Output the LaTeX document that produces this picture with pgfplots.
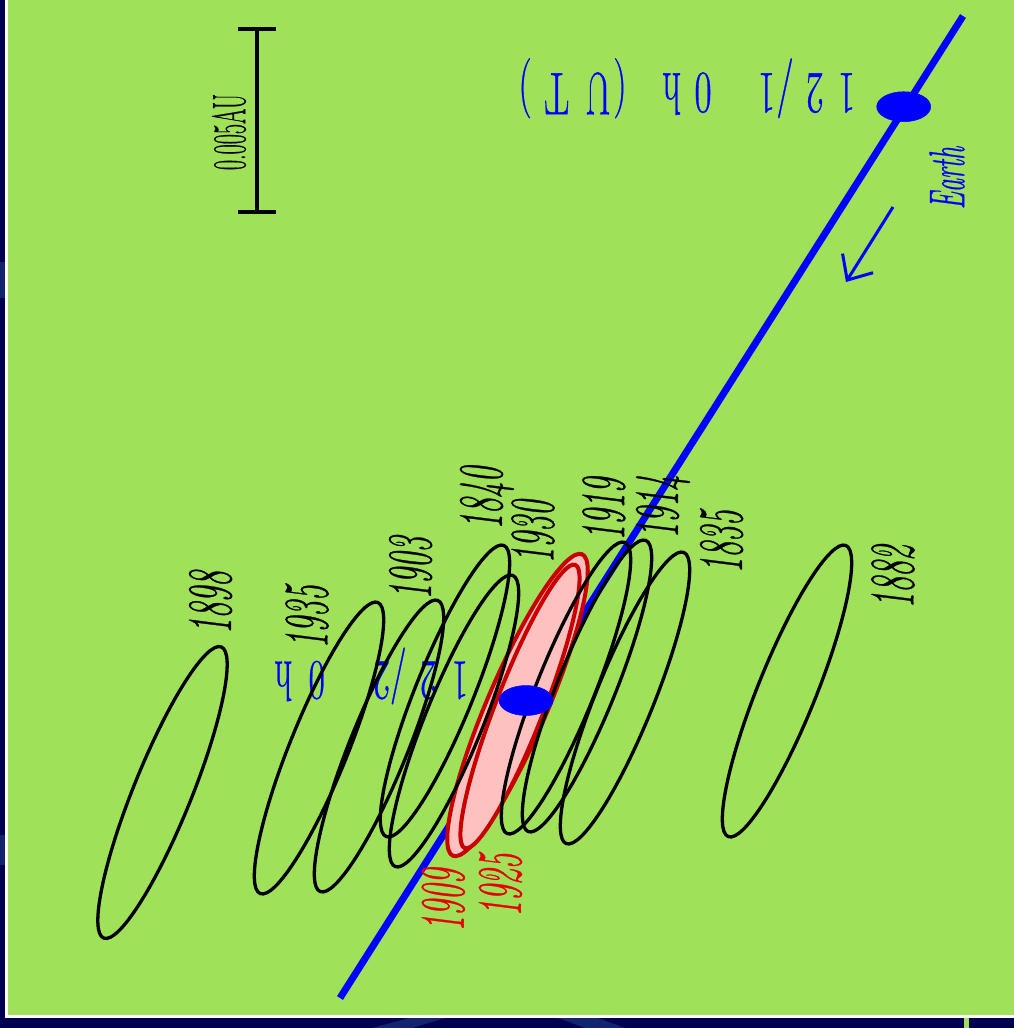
\documentclass[border=0pt]{standalone}
\usepackage{fontspec}
\setmainfont{Latin Modern Roman}[FakeBold=0.8]
\usepackage{pgfplots}
\usepackage{pgfplotstable}
\pgfplotsset{compat=1.18}
\usetikzlibrary{arrows.meta}
\definecolor{bg}{RGB}{0,0,80}
\definecolor{bgstripe}{RGB}{30,60,130}
\definecolor{grn}{RGB}{160,225,90}
\definecolor{dred}{RGB}{200,0,0}
\definecolor{pinkf}{RGB}{255,192,192}
\definecolor{lab}{RGB}{230,0,0}

\pgfdeclareplotmark{ells}{%
  \pgfmathsetmacro\angb{\ang+90}%
  \pgfpathellipse{\pgfpointorigin}{\pgfpointpolar{\ang}{\rx pt}}{\pgfpointpolar{\angb}{\ry pt}}%
  \pgfusepathqstroke}
\pgfdeclareplotmark{ellf}{%
  \pgfmathsetmacro\angb{\ang+90}%
  \pgfpathellipse{\pgfpointorigin}{\pgfpointpolar{\ang}{\rx pt}}{\pgfpointpolar{\angb}{\ry pt}}%
  \pgfusepathqfillstroke}

% meteor stream node ellipses: centre (px), semi-axes (px), angle (deg)
\pgfplotstableread{
x y rx ry ang
162.5 792.5 157 29 68
319 748 157 29 68
379 746 157 29 68
445 691 157 29 68
454 721 157 29 68
566 688 157 29 68
587 686 157 29 68
625 698 157 29 68
787 691 157 29 68
}\blackell
\pgfplotstableread{
x y rx ry ang
517.5 705 164 30 66.8
520 706.5 152 24 68.7
}\redell
\pgfplotstableread{
x y rx ry ang
903.7 106.7 27 15 0
526 700.5 27 15 0
}\earthpos

\newcommand{\uc}[4]{\node[rotate=180, anchor=base, text=blue, inner sep=0pt,
  font=\fontsize{#4}{#4}\selectfont] at (axis cs:#1,#2) {\scalebox{0.62}[1]{#3}};}
\newcommand{\yr}[4]{\node[rotate=90, text=#4, inner sep=0pt,
  font=\fontsize{63}{63}\selectfont\itshape] at (axis cs:#1,#2) {\scalebox{0.5}[1]{#3}};}

\begin{document}
\begin{tikzpicture}
\begin{axis}[x=1pt, y=1pt, y dir=reverse, xmin=0, xmax=1014, ymin=0, ymax=1028,
  hide axis, scale only axis, clip=false]
% frame
\fill[bg] (axis cs:0,0) rectangle (axis cs:1014,1028);
\fill[bgstripe, opacity=0.6] (axis cs:372,1028) -- (axis cs:412,1028) -- (axis cs:455,1015) -- (axis cs:420,1015) -- cycle;
\fill[bgstripe, opacity=0.6] (axis cs:550,1015) -- (axis cs:590,1015) -- (axis cs:625,1028) -- (axis cs:585,1028) -- cycle;
\fill[bgstripe, opacity=0.6] (axis cs:0,262) rectangle (axis cs:6,298);
\fill[bgstripe, opacity=0.6] (axis cs:0,835) rectangle (axis cs:6,865);
\fill[white] (axis cs:5,0) rectangle (axis cs:1014,1017.5);
\fill[grn] (axis cs:7.5,0) rectangle (axis cs:1014,1015);
\fill[grn] (axis cs:964,1017.5) rectangle (axis cs:969,1028);

% red (pink) ellipses
\addplot[only marks, mark=ellf, mark options={draw=dred, fill=pinkf, line width=4pt},
  visualization depends on={\thisrow{rx}\as\rx},
  visualization depends on={\thisrow{ry}\as\ry},
  visualization depends on={\thisrow{ang}\as\ang}] table {\redell};
% black ellipses
\addplot[only marks, mark=ells, mark options={draw=black, line width=3.3pt},
  visualization depends on={\thisrow{rx}\as\rx},
  visualization depends on={\thisrow{ry}\as\ry},
  visualization depends on={\thisrow{ang}\as\ang}] table {\blackell};

% Earth orbit
\addplot[blue, line width=7pt] coordinates {(963,16) (340,998)};
\addplot[only marks, mark=ellf, mark options={draw=blue, fill=blue, line width=0.5pt},
  visualization depends on={\thisrow{rx}\as\rx},
  visualization depends on={\thisrow{ry}\as\ry},
  visualization depends on={\thisrow{ang}\as\ang}] table {\earthpos};
\addplot[blue, line width=3pt, -{Straight Barb[length=20pt, width=36pt, line width=3pt]}]
  coordinates {(893,207) (846,282)};

% scale bar
\addplot[black, line width=4pt] coordinates {(257,29) (257,212)};
\addplot[black, line width=4pt] coordinates {(238,29) (276,29)};
\addplot[black, line width=4pt] coordinates {(238,212) (276,212)};
\node[rotate=90, inner sep=0pt, font=\fontsize{47}{47}\selectfont] at (axis cs:229,132)
  {\scalebox{0.47}[1]{0.005AU}};

% Earth label
\node[rotate=90, inner sep=0pt, text=blue, font=\fontsize{50}{50}\selectfont\itshape]
  at (axis cs:947,178) {\scalebox{0.52}[1]{Earth}};

% 12/1 0h (UT)  (upside down)
\uc{846.7}{73.3}{1}{60}\uc{815}{73.3}{2}{60}\uc{785}{73.3}{/}{60}\uc{766.7}{73.3}{1}{60}
\uc{703}{73.3}{0}{60}\uc{671.7}{73.3}{h}{60}
\uc{620}{73.3}{(}{60}\uc{598}{73.3}{U}{60}\uc{556.7}{73.3}{T}{60}\uc{525}{73.3}{)}{60}
% 12/2 0h
\uc{460}{661.7}{1}{57}\uc{428.3}{661.7}{2}{57}\uc{398.3}{661.7}{/}{57}\uc{381.7}{661.7}{2}{57}
\uc{316.7}{661.7}{0}{57}\uc{283.3}{661.7}{h}{57}

% year labels
\yr{210.6}{602.5}{1898}{black}
\yr{307}{616.7}{1935}{black}
\yr{410.6}{568}{1903}{black}
\yr{487}{498}{1840}{black}
\yr{533}{531.7}{1930}{black}
\yr{603.8}{509}{1919}{black}
\yr{663}{506.7}{1914}{black}
\yr{721.6}{541.7}{1835}{black}
\yr{893}{576.7}{1882}{black}
\yr{443.3}{900}{1909}{lab}
\yr{500.5}{885}{1925}{lab}
\end{axis}
\end{tikzpicture}
\end{document}
